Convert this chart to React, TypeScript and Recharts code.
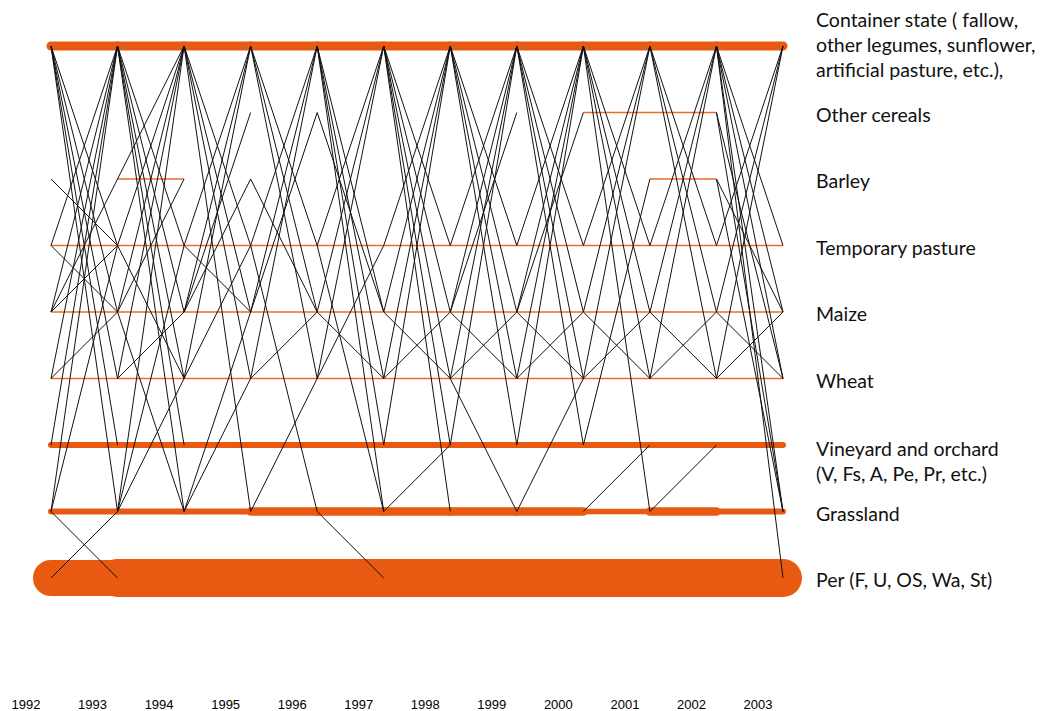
import { ComposedChart, Line, XAxis, YAxis } from "recharts";

// one column per survey year
const YEARS = [1992, 1993, 1994, 1995, 1996, 1997, 1998, 1999, 2000, 2001, 2002, 2003];

// land-use states, bottom (level 0) to top (level 8)
const STATES = ["P", "G", "V", "W", "M", "TP", "B", "OC", "C"];

const STATE_LABELS: string[][] = [
  ["Per (F, U, OS, Wa, St)"],
  ["Grassland"],
  ["Vineyard and orchard", "(V, Fs, A, Pe, Pr, etc.)"],
  ["Wheat"],
  ["Maize"],
  ["Temporary pasture"],
  ["Barley"],
  ["Other cereals"],
  ["Container state ( fallow,", "other  legumes, sunflower,", "artificial pasture, etc.),"],
];

// plots staying in the same state from one year to the next (one value per interval)
const STAY_P = [72, 76, 76, 76, 76, 76, 76, 76, 76, 76, 76];
const STAY_G = [12, 12, 12, 17, 17, 17, 17, 17, 11, 17, 12];
const STAY_V = [12, 12, 12, 12, 12, 12, 12, 12, 12, 12, 12];
const STAY_W = [3, 3, 3, 3, 3, 3, 3, 3, 3, 3, 3];
const STAY_M = [3, 3, 3, 3, 3, 3, 3, 3, 3, 3, 3];
const STAY_TP = [3, 3, 3, 3, 3, 3, 3, 3, 3, 3, 3];
const STAY_B = [0, 3, 0, 0, 0, 0, 0, 0, 0, 3, 0];
const STAY_OC = [0, 0, 0, 0, 0, 0, 0, 0, 3, 3, 0];
const STAY_C = [18, 18, 18, 18, 18, 18, 18, 18, 18, 18, 18];

// state changes, [from, to], for each year to the next
const MOVES_1992 = [
  ["C", "TP"], ["C", "M"], ["C", "W"], ["C", "V"], ["C", "G"],
  ["B", "TP"],
  ["TP", "C"], ["TP", "M"],
  ["M", "C"], ["M", "TP"], ["M", "B"],
  ["W", "C"], ["W", "M"],
  ["V", "C"],
  ["G", "C"], ["G", "TP"], ["G", "P"],
  ["P", "G"],
];
const MOVES_1993 = [
  ["C", "TP"], ["C", "M"], ["C", "W"], ["C", "V"], ["C", "G"],
  ["TP", "C"], ["TP", "W"],
  ["M", "C"], ["M", "B"], ["M", "G"],
  ["W", "C"], ["W", "M"],
  ["G", "C"], ["G", "TP"], ["G", "W"],
  ["B", "C"],
];
const MOVES_1994 = [
  ["C", "TP"], ["C", "M"], ["C", "W"], ["C", "G"],
  ["TP", "C"], ["TP", "M"],
  ["M", "C"], ["M", "B"], ["M", "OC"],
  ["W", "C"], ["W", "TP"],
  ["G", "M"], ["G", "W"],
];
const MOVES_1995 = [
  ["C", "TP"], ["C", "M"], ["C", "W"],
  ["TP", "C"], ["TP", "G"],
  ["M", "C"], ["M", "OC"],
  ["W", "C"], ["W", "M"],
  ["B", "M"],
  ["G", "W"],
];
const MOVES_1996 = [
  ["C", "M"], ["C", "W"], ["C", "V"], ["C", "G"],
  ["TP", "C"], ["TP", "G"],
  ["M", "C"], ["M", "W"],
  ["OC", "M"],
  ["W", "C"], ["W", "TP"],
  ["G", "P"],
];
const MOVES_1997 = [
  ["C", "TP"], ["C", "M"], ["C", "W"], ["C", "V"], ["C", "G"],
  ["TP", "C"],
  ["M", "C"], ["M", "W"],
  ["W", "C"], ["W", "M"],
  ["V", "C"],
  ["G", "V"],
];
const MOVES_1998 = [
  ["C", "TP"], ["C", "M"], ["C", "W"], ["C", "V"],
  ["TP", "C"],
  ["M", "C"], ["M", "OC"], ["M", "W"],
  ["W", "C"], ["W", "M"], ["W", "G"],
  ["V", "C"],
];
const MOVES_1999 = [
  ["C", "TP"], ["C", "M"], ["C", "W"], ["C", "V"],
  ["TP", "C"],
  ["M", "C"], ["M", "OC"], ["M", "W"],
  ["W", "C"], ["W", "M"],
  ["V", "C"],
  ["G", "W"],
];
const MOVES_2000 = [
  ["C", "TP"], ["C", "M"], ["C", "W"], ["C", "G"],
  ["TP", "C"],
  ["M", "C"], ["M", "W"],
  ["W", "C"], ["W", "M"],
  ["V", "B"],
  ["G", "V"],
];
const MOVES_2001 = [
  ["C", "TP"], ["C", "M"], ["C", "W"],
  ["TP", "C"],
  ["M", "C"], ["M", "W"],
  ["W", "C"], ["W", "M"],
  ["G", "V"],
];
const MOVES_2002 = [
  ["C", "TP"], ["C", "M"], ["C", "W"], ["C", "G"], ["C", "P"],
  ["OC", "W"], ["OC", "G"],
  ["B", "M"], ["B", "G"],
  ["TP", "C"],
  ["M", "C"], ["M", "W"],
  ["W", "C"], ["W", "M"],
];

const STAYS = [STAY_P, STAY_G, STAY_V, STAY_W, STAY_M, STAY_TP, STAY_B, STAY_OC, STAY_C];
const MOVES = [
  MOVES_1992, MOVES_1993, MOVES_1994, MOVES_1995, MOVES_1996, MOVES_1997,
  MOVES_1998, MOVES_1999, MOVES_2000, MOVES_2001, MOVES_2002,
];

const BAND_COLOR = "#E85A12";
const THIN_COLOR = "#EE6B27";
const LINK_COLOR = "#111";

const level = (code: string) => STATES.indexOf(code);

const bands = STAYS.flatMap((row, lv) =>
  row
    .map((count, i) => ({
      key: `b${lv}-${i}`,
      count,
      data: [
        { year: YEARS[i], level: lv },
        { year: YEARS[i + 1], level: lv },
      ],
    }))
    .filter((b) => b.count > 0)
);

const links = MOVES.flatMap((list, i) =>
  list.map(([from, to], j) => ({
    key: `m${i}-${j}`,
    data: [
      { year: YEARS[i], level: level(from) },
      { year: YEARS[i + 1], level: level(to) },
    ],
  }))
);

function YearTick({ x, y, payload }: any) {
  return (
    <text
      x={x - 25}
      y={y + 129}
      textAnchor="middle"
      fontFamily="'Liberation Sans', Arial, sans-serif"
      fontSize={13}
      fill="#000"
    >
      {payload.value}
    </text>
  );
}

function StateTick({ x, y, payload }: any) {
  const lines = STATE_LABELS[payload.value] ?? [];
  const first = lines.length === 3 ? y - 25 : y + (lines.length === 2 ? 5 : 3);
  return (
    <text fontFamily="Lato, 'Open Sans', sans-serif" fontSize={19.5} fill="#111" textAnchor="start">
      {lines.map((line, i) => (
        <tspan key={i} x={x} y={first + i * 25 + 6}>
          {line}
        </tspan>
      ))}
    </text>
  );
}

export default function App() {
  return (
    <div style={{ position: "absolute", left: 0, top: 0, background: "#fff" }}>
      <ComposedChart width={1047} height={711} margin={{ top: 46, right: 0, bottom: 0, left: 51 }}>
        <XAxis
          type="number"
          dataKey="year"
          domain={[1992, 2003]}
          ticks={YEARS}
          interval={0}
          height={133}
          axisLine={false}
          tickLine={false}
          tickSize={0}
          tick={<YearTick />}
        />
        <YAxis
          type="number"
          dataKey="level"
          orientation="right"
          domain={[0, 8]}
          ticks={[0, 1, 2, 3, 4, 5, 6, 7, 8]}
          interval={0}
          width={264}
          axisLine={false}
          tickLine={false}
          tickSize={0}
          tickMargin={33}
          tick={<StateTick />}
        />
        {bands.map((b) => (
          <Line
            key={b.key}
            data={b.data}
            dataKey="level"
            type="linear"
            stroke={b.count >= 10 ? BAND_COLOR : THIN_COLOR}
            strokeWidth={b.count * 0.5}
            strokeLinecap={b.count >= 10 ? "round" : "butt"}
            dot={false}
            activeDot={false}
            legendType="none"
            isAnimationActive={false}
          />
        ))}
        {links.map((l) => (
          <Line
            key={l.key}
            data={l.data}
            dataKey="level"
            type="linear"
            stroke={LINK_COLOR}
            strokeWidth={1}
            dot={false}
            activeDot={false}
            legendType="none"
            isAnimationActive={false}
          />
        ))}
      </ComposedChart>
    </div>
  );
}
